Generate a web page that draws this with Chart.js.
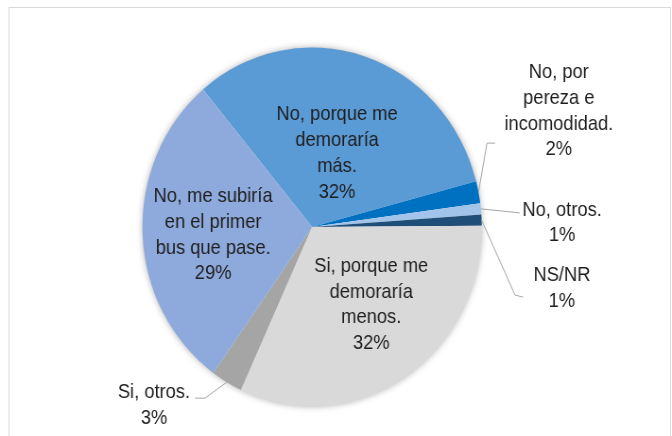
<!DOCTYPE html>
<html lang="es">
<head>
<meta charset="utf-8">
<title>Cambio de paradero</title>
<script src="https://cdn.jsdelivr.net/npm/chart.js@4.4.1/dist/chart.umd.min.js"></script>
<style>
  html, body { margin: 0; padding: 0; background: #fff; overflow: hidden; }
  /* chart is drawn a bit wider and then pressed to the page width */
  #pieChart { display: block; transform: scaleX(0.9451); transform-origin: 0 0; }
</style>
</head>
<body>
<canvas id="pieChart" width="711" height="436"></canvas>
<script>
// --- Data ---
const categories = [
  ['No, porque me', 'demoraría', 'más.'],
  ['No, por', 'pereza e', 'incomodidad.'],
  ['No, otros.'],
  ['NS/NR'],
  ['Si, porque me', 'demoraría', 'menos.'],
  ['Si, otros.'],
  ['No, me subiría', 'en el primer', 'bus que pase.']
];
const shares = [32, 2, 1, 1, 32, 3, 29];
const sliceColors = ['#5B9BD5', '#0070C0', '#A3C4EA', '#1F4E79', '#D9D9D9', '#A5A5A5', '#8EA9DB'];

const FONT = "20.3px 'Liberation Sans', Arial, sans-serif";
const TEXT_SQUEEZE = 0.955;
const LINE_H = 25.8;

// labels sitting inside their slice: radius fraction and small angle nudge (deg)
const insideSpots = {
  0: { r: 0.435, nudge: 2.2 },
  4: { r: 0.557, nudge: -6 },
  6: { r: 0.585, nudge: -2.2 }
};
// labels outside the pie, offsets from the slice's edge point, with leader bends
const outsideSpots = {
  1: { dx: 85, dy: -81, leader: [[9, -49], [17.5, -49]] },
  2: { dx: 86, dy: 14, leader: [[41, 4]] },
  3: { dx: 85, dy: 68.5, leader: [[35.4, 75], [43.8, 77]] },
  5: { dx: -77, dy: 23, leader: [[-22.9, 16], [-33.6, 16]] }
};

function textLines(i) {
  return categories[i].concat([shares[i] + '%']);
}

function drawBlock(ctx, lines, cx, cy) {
  const top = cy - (lines.length - 1) * LINE_H / 2;
  lines.forEach((t, k) => {
    ctx.save();
    ctx.translate(cx, top + k * LINE_H);
    ctx.scale(TEXT_SQUEEZE, 1);
    ctx.fillText(t, 0, 0);
    ctx.restore();
  });
}

// white card with a thin grey frame
const framePlugin = {
  id: 'frame',
  beforeDraw(chart) {
    const ctx = chart.ctx;
    ctx.save();
    ctx.fillStyle = '#fff';
    ctx.fillRect(0, 0, chart.width, chart.height);
    ctx.strokeStyle = '#D9D9D9';
    ctx.lineWidth = 1;
    ctx.strokeRect(9.5, 7.5, 700, 440);
    ctx.restore();
  },
  // soft shadow under the whole pie
  beforeDatasetsDraw(chart) {
    const arc = chart.getDatasetMeta(0).data[0];
    if (!arc) return;
    const ctx = chart.ctx;
    ctx.save();
    ctx.shadowColor = 'rgba(0,0,0,0.35)';
    ctx.shadowBlur = 7;
    ctx.fillStyle = '#fff';
    ctx.beginPath();
    ctx.arc(arc.x, arc.y, arc.outerRadius - 0.5, 0, Math.PI * 2);
    ctx.fill();
    ctx.restore();
  }
};

const sliceLabels = {
  id: 'sliceLabels',
  afterDatasetsDraw(chart) {
    const ctx = chart.ctx;
    const arcs = chart.getDatasetMeta(0).data;
    ctx.save();
    ctx.font = FONT;
    ctx.fillStyle = '#1E1E1E';
    ctx.textAlign = 'center';
    ctx.textBaseline = 'middle';

    arcs.forEach((arc, i) => {
      const mid = (arc.startAngle + arc.endAngle) / 2;
      if (insideSpots[i]) {
        const s = insideSpots[i];
        const a = mid + s.nudge * Math.PI / 180;
        const d = arc.outerRadius * s.r;
        drawBlock(ctx, textLines(i), arc.x + Math.cos(a) * d, arc.y + Math.sin(a) * d);
      } else if (outsideSpots[i]) {
        const s = outsideSpots[i];
        const ex = arc.x + Math.cos(mid) * arc.outerRadius;
        const ey = arc.y + Math.sin(mid) * arc.outerRadius;
        ctx.save();
        ctx.strokeStyle = '#A6A6A6';
        ctx.lineWidth = 1;
        ctx.beginPath();
        ctx.moveTo(ex, ey);
        s.leader.forEach(p => ctx.lineTo(ex + p[0], ey + p[1]));
        ctx.stroke();
        ctx.restore();
        drawBlock(ctx, textLines(i), ex + s.dx, ey + s.dy);
      }
    });
    ctx.restore();
  }
};

new Chart(document.getElementById('pieChart'), {
  type: 'pie',
  data: {
    labels: categories,
    datasets: [{
      data: shares,
      backgroundColor: sliceColors,
      borderWidth: 0
    }]
  },
  options: {
    responsive: false,
    animation: false,
    rotation: -40,
    layout: { padding: { left: 150.7, right: 201.3, top: 47.5, bottom: 29.5 } },
    plugins: {
      legend: { display: false },
      tooltip: { enabled: false }
    }
  },
  plugins: [framePlugin, sliceLabels]
});
</script>
</body>
</html>
